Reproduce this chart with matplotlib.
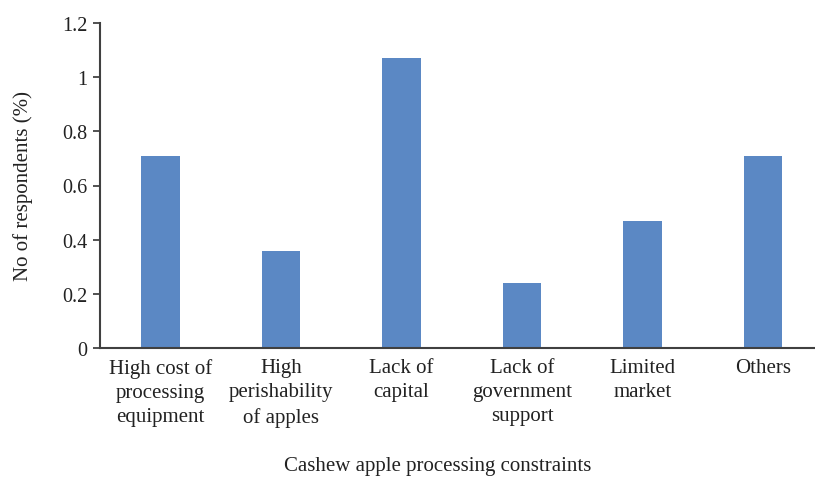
import matplotlib
matplotlib.use("Agg")
import matplotlib.pyplot as plt

categories = ["High cost of\nprocessing\nequipment", "High\nperishability\nof apples",
              "Lack of\ncapital", "Lack of\ngovernment\nsupport", "Limited\nmarket", "Others"]
values = [0.71, 0.36, 1.07, 0.24, 0.47, 0.71]
yticks = [0, 0.2, 0.4, 0.6, 0.8, 1, 1.2]
ytick_labels = ["0", "0.2", "0.4", "0.6", "0.8", "1", "1.2"]

plt.rcParams['font.family'] = ['Liberation Serif', 'DejaVu Serif']

W, H = 815, 481
fig = plt.figure(figsize=(W / 100, H / 100), dpi=100)
left, right, top, bottom = 100, 815, 24, 349
ax = fig.add_axes([left / W, 1 - bottom / H, (right - left) / W, (bottom - top) / H])

x = list(range(len(categories)))
ax.bar(x, values, width=0.32, color="#5B88C4", zorder=2)
ax.set_xlim(-0.5, 5.43)
ax.set_ylim(0, 1.2)
ax.set_yticks(yticks)
ax.set_yticklabels(ytick_labels, fontsize=14.5)
ax.set_xticks(x)
ax.set_xticklabels(categories, fontsize=15, linespacing=1.38, color="#222222")
ax.tick_params(axis='x', length=0, pad=7)
ax.tick_params(axis='y', length=5, width=1.2, color="#333333", pad=4, labelcolor="#222222")
for s in ["top", "right"]:
    ax.spines[s].set_visible(False)
for s in ["left", "bottom"]:
    ax.spines[s].set_color("#404040")
    ax.spines[s].set_linewidth(1.5)

ax.set_ylabel("No of respondents (%)", fontsize=15, color="#222222")
ax.yaxis.set_label_coords((33 - left) / (right - left), 0.5)
ax.set_xlabel("Cashew apple processing constraints", fontsize=15, color="#222222")
ax.xaxis.set_label_coords((438 - left) / (right - left), -(457 - bottom) / (bottom - top))

fig.savefig("out.png", dpi=100)
